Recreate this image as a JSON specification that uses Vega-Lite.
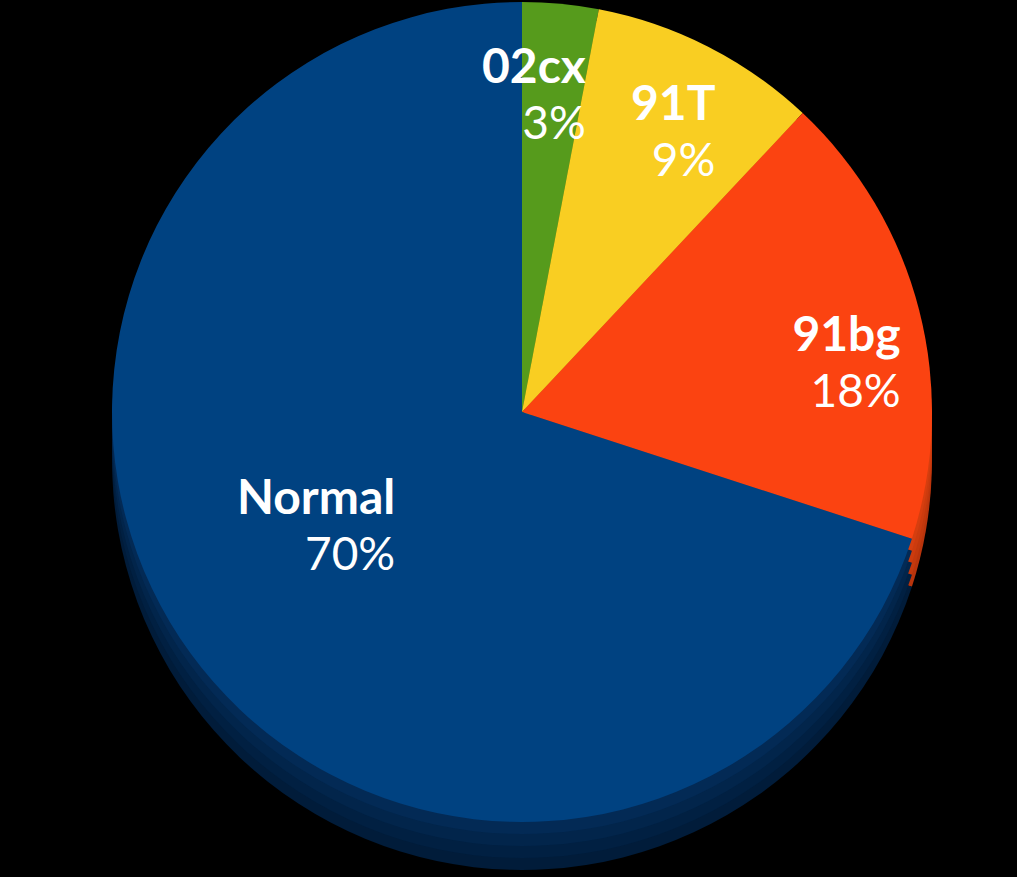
{
  "$schema": "https://vega.github.io/schema/vega-lite/v6.json",
  "width": 990,
  "height": 824,
  "autosize": "none",
  "padding": {"left": 27, "top": 0, "right": 0, "bottom": 53},
  "background": "black",
  "config": {"view": {"stroke": null}},
  "data": {
    "values": [
      {"name": "02cx", "value": 3, "pct": "3%"},
      {"name": "91T", "value": 9, "pct": "9%"},
      {"name": "91bg", "value": 18, "pct": "18%"},
      {"name": "Normal", "value": 70, "pct": "70%"}
    ]
  },
  "encoding": {
    "theta": {"field": "value", "type": "quantitative", "stack": true},
    "order": {"field": "value", "type": "quantitative", "sort": "ascending"}
  },
  "layer": [
    {
      "mark": {"type": "arc", "outerRadius": 410, "yOffset": 48},
      "encoding": {
        "color": {"field": "name", "type": "nominal", "legend": null,
          "scale": {"domain": ["02cx", "91T", "91bg", "Normal"], "range": ["#3b6b13", "#b8951a", "#b8340c", "#011c3a"]}}
      }
    },
    {
      "mark": {"type": "arc", "outerRadius": 410, "yOffset": 36},
      "encoding": {
        "color": {"field": "name", "type": "nominal", "legend": null,
          "scale": {"domain": ["02cx", "91T", "91bg", "Normal"], "range": ["#3b6b13", "#b8951a", "#c2380d", "#012042"]}}
      }
    },
    {
      "mark": {"type": "arc", "outerRadius": 410, "yOffset": 24},
      "encoding": {
        "color": {"field": "name", "type": "nominal", "legend": null,
          "scale": {"domain": ["02cx", "91T", "91bg", "Normal"], "range": ["#3b6b13", "#b8951a", "#cc3b0e", "#02254b"]}}
      }
    },
    {
      "mark": {"type": "arc", "outerRadius": 410, "yOffset": 12},
      "encoding": {
        "color": {"field": "name", "type": "nominal", "legend": null,
          "scale": {"domain": ["02cx", "91T", "91bg", "Normal"], "range": ["#3b6b13", "#b8951a", "#d63e0f", "#032a55"]}}
      }
    },
    {
      "mark": {"type": "arc", "outerRadius": 410},
      "encoding": {
        "color": {"field": "name", "type": "nominal", "legend": null,
          "scale": {"domain": ["02cx", "91T", "91bg", "Normal"], "range": ["#569B1C", "#F9CE22", "#FB4311", "#004281"]}}
      }
    },
    {
      "mark": {"type": "text", "radius": 360, "dx": 30, "dy": 15, "align": "right", "baseline": "middle", "font": "Lato", "fontWeight": "bold", "fontSize": 48, "fill": "white"},
      "encoding": {
        "detail": {"field": "name", "type": "nominal"},
        "text": {"field": "name", "type": "nominal"},
        "opacity": {"condition": {"test": "datum.name === 'Normal'", "value": 0}, "value": 1}
      }
    },
    {
      "mark": {"type": "text", "radius": 360, "dx": 30, "dy": 71, "align": "right", "baseline": "middle", "font": "Lato", "fontWeight": "normal", "fontSize": 46, "fill": "white"},
      "encoding": {
        "detail": {"field": "name", "type": "nominal"},
        "text": {"field": "pct", "type": "nominal"},
        "opacity": {"condition": {"test": "datum.name === 'Normal'", "value": 0}, "value": 1}
      }
    },
    {
      "mark": {"type": "text", "radius": 200, "dx": 35, "dy": -30, "align": "right", "baseline": "middle", "font": "Lato", "fontWeight": "bold", "fontSize": 48, "fill": "white"},
      "encoding": {
        "detail": {"field": "name", "type": "nominal"},
        "text": {"field": "name", "type": "nominal"},
        "opacity": {"condition": {"test": "datum.name === 'Normal'", "value": 1}, "value": 0}
      }
    },
    {
      "mark": {"type": "text", "radius": 200, "dx": 35, "dy": 26, "align": "right", "baseline": "middle", "font": "Lato", "fontWeight": "normal", "fontSize": 46, "fill": "white"},
      "encoding": {
        "detail": {"field": "name", "type": "nominal"},
        "text": {"field": "pct", "type": "nominal"},
        "opacity": {"condition": {"test": "datum.name === 'Normal'", "value": 1}, "value": 0}
      }
    }
  ],
  "resolve": {"scale": {"color": "independent"}}
}
